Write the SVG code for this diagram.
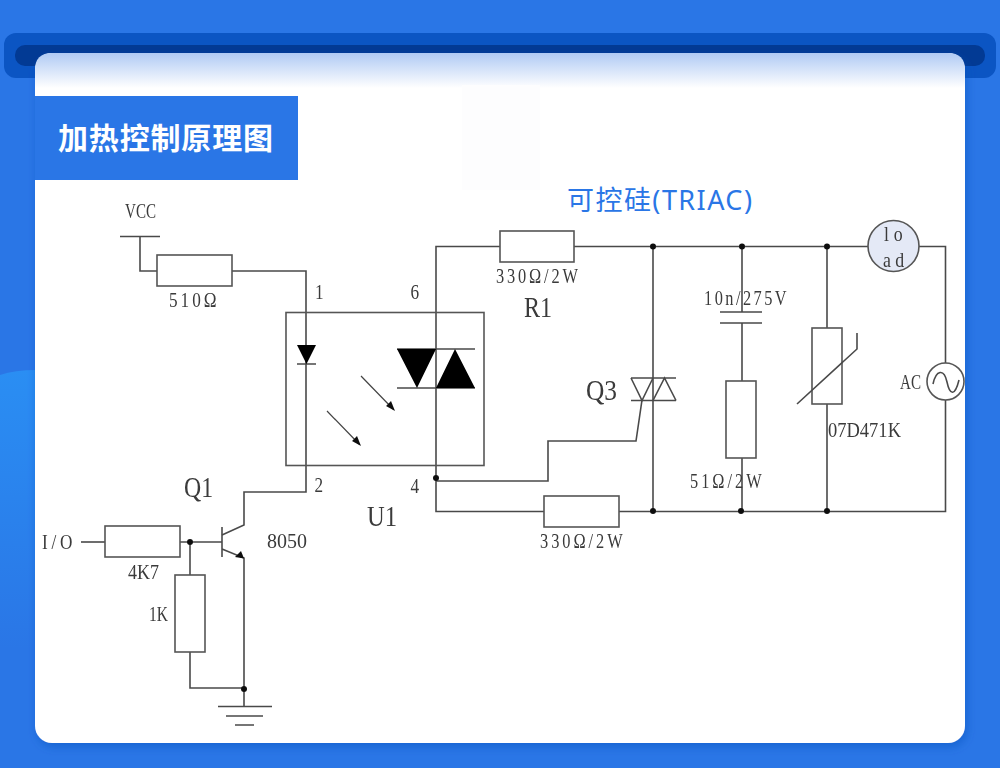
<svg xmlns="http://www.w3.org/2000/svg" width="1000" height="768" viewBox="0 0 1000 768">
<defs>
<linearGradient id="sheen" x1="0" y1="0" x2="0" y2="1"><stop offset="0" stop-color="#b0caf4"/><stop offset="1" stop-color="#ffffff"/></linearGradient>
<linearGradient id="side" x1="0" y1="0" x2="0" y2="1"><stop offset="0" stop-color="#2a8ef3"/><stop offset="0.7" stop-color="#2a76e6"/></linearGradient>
<filter id="blur" x="-5%" y="-5%" width="110%" height="110%"><feGaussianBlur stdDeviation="0.45"/></filter>
<filter id="shadow" x="-5%" y="-5%" width="110%" height="110%"><feDropShadow dx="2" dy="4" stdDeviation="5" flood-color="#0b4fb8" flood-opacity="0.45"/></filter>
</defs>
<style>
.w{fill:none;stroke:#4a4a4a;stroke-width:1.6}
.b{fill:#fff;stroke:#555;stroke-width:1.6}
.o{fill:none;stroke:#555;stroke-width:1.6}
.d{fill:#111}
.k{fill:#000}
.t{font-family:"Liberation Serif","Noto Sans CJK SC",serif;fill:#3a3a3a;font-size:21px}
.l{font-size:30px}
.cn{font-family:"Noto Sans","Noto Sans CJK SC",sans-serif}
</style>
<g id="background">
<rect width="1000" height="768" fill="#2a76e6"/>
<path d="M0 375Q15 370 36 370V768H0z" fill="url(#side)"/>
<rect x="4" y="33" width="992" height="45" rx="12" fill="#0b55c3"/>
<rect x="15" y="45" width="970" height="21" rx="10" fill="#023a94"/>
<rect x="35" y="53" width="930" height="690" rx="17" fill="#fff" filter="url(#shadow)"/>
<path d="M35 88V70q0-17 17-17H948q17 0 17 17V88z" fill="url(#sheen)"/>
<rect x="462" y="85" width="78" height="105" fill="#fdfdfe"/>
</g>
<g id="title">
<rect x="35" y="96" width="263" height="84" fill="#2a76e6"/>
<text x="58" y="149" class="cn" font-size="30" font-weight="700" fill="#fff" textLength="215">加热控制原理图</text>
</g>
<text id="triac-label" x="567" y="210" class="cn" font-size="27" fill="#2a76e6" textLength="185">可控硅(TRIAC)</text>
<g filter="url(#blur)">
<g id="connectors">
<path class="w" d="M120 236.500H160M140 236.500V271H157M232 271H306V492H244V525L222 535"/>
<path class="w" d="M222 527V557M222 542H180M222 549L244 558V689M190 542V575M190 652V688H244M218 706.500H272M226 716H263M235 725H254M244 689V706"/>
<path class="w" d="M81 542H105"/>
<path class="w" d="M500 246.500H436V511.500H544M574 246.500H868M919 246.500H945.500V363M945.500 400V511.500H619M436 481H548V441H636L642 400"/>
<path class="w" d="M653 246.500V511.500M742 246.500V312M742 323V381M742 458V511.500M827 246.500V328M827 404V511.500"/>
<path class="w" d="M397 349H475M397 388H475M297 364H316M720 312H762M720 323H762"/>
<path d="M361 376L393 409M327 411L359 444" fill="none" stroke="#444" stroke-width="1.200"/>
<path d="M395 411L386 406L391 401zM361 446L352 441L357 436z" class="d"/>
<path class="d" d="M244 558.500L235 557L241 551z"/>
</g>
<g id="u1"><rect class="o" x="286" y="312.500" width="198" height="153"/>
<path class="k" d="M297 345H316L306.500 364zM397 349H436L417 388zM455 349L475 388H436z"/>
</g>
<g id="q3"><path class="w" d="M631 378H676M631 400.500H676M631 378L642 400.500L653 378M653 400.500L664.500 378L676 400.500"/></g>
<g id="r-510"><rect class="b" x="157" y="255" width="75" height="31"/></g>
<g id="r1"><rect class="b" x="500" y="231" width="74" height="31"/></g>
<g id="r-330"><rect class="b" x="544" y="496" width="75" height="31"/></g>
<g id="r-4k7"><rect class="b" x="105" y="526" width="75" height="31"/></g>
<g id="r-1k"><rect class="b" x="175" y="575" width="30" height="77"/></g>
<g id="r-51"><rect class="b" x="726" y="381" width="30" height="77"/></g>
<g id="varistor"><rect class="b" x="812" y="328" width="30" height="76"/><path class="w" d="M797 404L857 349V333"/></g>
<g id="load"><circle cx="893.500" cy="246" r="25.500" fill="#e4e9f6" stroke="#555" stroke-width="1.600"/><text transform="translate(884 241) scale(.85 1)" class="t" textLength="22">lo</text><text transform="translate(883 267) scale(.85 1)" class="t" textLength="25">ad</text></g>
<g id="ac"><circle cx="945.500" cy="381.500" r="18.500" fill="#fff" stroke="#555" stroke-width="1.600"/><path class="w" d="M933 384C936 370 944 368 947 382S955 396 959 380"/><text x="900" y="389" class="t" textLength="21" lengthAdjust="spacingAndGlyphs">AC</text></g>
<g id="junctions" class="d">
<circle cx="653" cy="246.500" r="3"/><circle cx="742" cy="246.500" r="3"/><circle cx="827" cy="246.500" r="3"/>
<circle cx="653" cy="511" r="3"/><circle cx="741" cy="511" r="3"/><circle cx="827" cy="511" r="3"/>
<circle cx="436" cy="478" r="3"/><circle cx="190" cy="542" r="3"/><circle cx="244" cy="689" r="3"/>
</g>
<g id="labels">
<text x="125" y="218" class="t" textLength="31" lengthAdjust="spacingAndGlyphs">VCC</text>
<text transform="translate(169 307) scale(.82 1)" class="t" textLength="58">510Ω</text>
<text transform="translate(315 298.500) scale(.82 1)" class="t">1</text>
<text transform="translate(410.500 298.500) scale(.82 1)" class="t">6</text>
<text transform="translate(314.500 492) scale(.82 1)" class="t">2</text>
<text transform="translate(410.500 492.500) scale(.82 1)" class="t">4</text>
<text transform="translate(496 283) scale(.78 1)" class="t" textLength="105">330Ω/2W</text>
<text x="524" y="317" class="t l" textLength="28" lengthAdjust="spacingAndGlyphs">R1</text>
<text x="184" y="497" class="t l" textLength="29" lengthAdjust="spacingAndGlyphs">Q1</text>
<text x="367" y="526" class="t l" textLength="30" lengthAdjust="spacingAndGlyphs">U1</text>
<text x="586" y="400" class="t l" textLength="31" lengthAdjust="spacingAndGlyphs">Q3</text>
<text transform="translate(42 549) scale(.82 1)" class="t" textLength="37">I/O</text>
<text x="128" y="579" class="t" textLength="31" lengthAdjust="spacingAndGlyphs">4K7</text>
<text x="149" y="621" class="t" textLength="19" lengthAdjust="spacingAndGlyphs">1K</text>
<text x="267" y="548" class="t" textLength="40" lengthAdjust="spacingAndGlyphs">8050</text>
<text transform="translate(704 305) scale(.78 1)" class="t" textLength="106">10n/275V</text>
<text transform="translate(690 488) scale(.78 1)" class="t" textLength="92">51Ω/2W</text>
<text transform="translate(540 548) scale(.78 1)" class="t" textLength="106">330Ω/2W</text>
<text x="828" y="437" class="t" textLength="73" lengthAdjust="spacingAndGlyphs">07D471K</text>
</g>
</g>
</svg>
